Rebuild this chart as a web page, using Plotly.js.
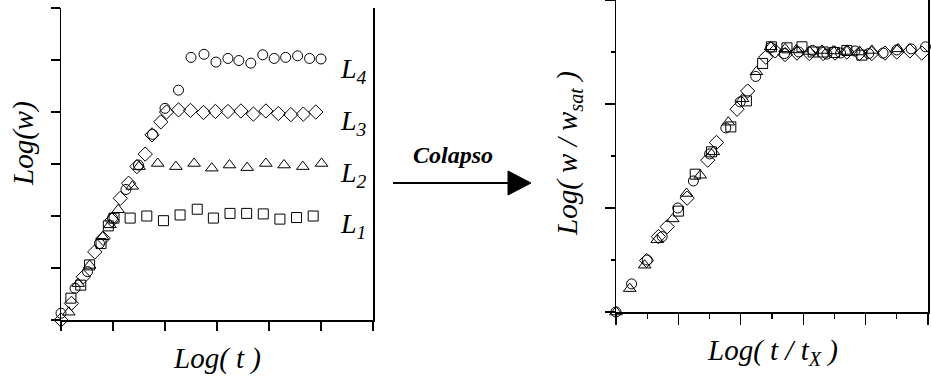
<!DOCTYPE html>
<html>
<head>
<meta charset="utf-8">
<script src="https://cdn.plot.ly/plotly-3.0.1.min.js"></script>
<style>
  html, body { margin: 0; padding: 0; background: #ffffff; }
  #chart { width: 931px; height: 380px; }
</style>
</head>
<body>
<div id="chart"></div>
<script>
// ---- Left panel: Log(w) versus Log(t) for four system sizes ----
const l1X = [0.01, 0.19, 0.38, 0.55, 0.77, 0.91, 1.02, 1.33, 1.65, 1.97, 2.29, 2.62, 2.93, 3.25, 3.57, 3.89, 4.21, 4.53, 4.85];
const l1Y = [-0.10, 0.42, 0.67, 1.06, 1.47, 1.81, 1.96, 1.96, 2.00, 1.91, 2.02, 2.13, 1.96, 2.05, 2.05, 2.04, 1.94, 1.97, 2.00];

const l2X = [0.15, 0.33, 0.55, 0.80, 0.94, 1.10, 1.37, 1.50, 1.86, 2.21, 2.56, 2.90, 3.24, 3.58, 3.94, 4.29, 4.65, 5.01];
const l2Y = [0.15, 0.70, 1.05, 1.60, 1.83, 2.12, 2.57, 2.95, 3.01, 2.95, 3.01, 2.92, 2.98, 2.93, 3.01, 2.98, 2.95, 3.01];

const l3X = [0.00, 0.20, 0.43, 0.65, 0.81, 0.98, 1.14, 1.30, 1.46, 1.62, 1.75, 1.92, 2.03, 2.26, 2.49, 2.74, 2.97, 3.21, 3.46, 3.70, 3.94, 4.18, 4.42, 4.66, 4.90];
const l3Y = [0.00, 0.32, 0.83, 1.31, 1.57, 1.92, 2.34, 2.63, 2.95, 3.19, 3.56, 3.81, 4.00, 4.04, 4.03, 3.99, 4.01, 4.01, 4.02, 3.96, 4.02, 3.97, 3.95, 3.96, 4.00];

const l4X = [0.00, 0.27, 0.51, 0.74, 0.99, 1.25, 1.49, 1.76, 2.00, 2.26, 2.50, 2.75, 2.98, 3.21, 3.42, 3.65, 3.88, 4.10, 4.32, 4.55, 4.78, 5.00];
const l4Y = [0.13, 0.61, 0.93, 1.47, 1.96, 2.51, 2.98, 3.57, 4.07, 4.42, 5.05, 5.11, 4.96, 5.03, 4.99, 4.94, 5.10, 5.03, 5.05, 5.08, 5.03, 5.02];

// ---- Right panel: collapsed curves Log(w/w_sat) versus Log(t/t_X) ----
const c1X = [1.00, 1.27, 1.53, 1.84, 2.09, 2.35, 2.49, 2.74, 2.98, 3.16, 3.32, 3.50, 3.70, 3.94];
const c1Y = [1.94, 2.65, 3.08, 3.56, 4.06, 4.78, 5.10, 5.08, 5.10, 5.00, 5.00, 4.99, 5.03, 4.94];

const c2X = [0.00, 0.22, 0.46, 0.66, 0.91, 1.13, 1.35, 1.56, 1.80, 2.03, 2.25, 2.48, 2.71, 2.89, 3.10, 3.30, 3.48, 3.70, 3.91, 4.10, 4.52];
const c2Y = [0.00, 0.45, 0.90, 1.39, 1.79, 2.28, 2.63, 3.08, 3.65, 4.10, 4.62, 5.10, 5.06, 5.04, 5.01, 5.03, 5.02, 5.01, 5.00, 5.03, 5.06];

const c3X = [0.49, 0.68, 0.82, 1.14, 1.47, 1.61, 1.94, 2.11, 2.40, 2.55, 2.71, 2.90, 3.10, 3.32, 3.51, 3.70, 3.90, 4.10, 4.31, 4.50, 4.71, 4.90];
const c3Y = [0.99, 1.45, 1.64, 2.19, 2.92, 3.26, 3.90, 4.25, 4.90, 5.02, 4.95, 4.98, 4.97, 4.97, 4.98, 5.00, 4.97, 4.97, 4.98, 5.00, 5.02, 4.98];

const c4X = [0.00, 0.25, 0.50, 0.74, 0.99, 1.24, 1.50, 1.76, 1.99, 2.24, 2.48, 2.70, 2.93, 3.15, 3.38, 3.60, 3.83, 4.05, 4.28, 4.50, 4.73, 4.96];
const c4Y = [0.00, 0.54, 1.00, 1.45, 2.00, 2.52, 3.04, 3.54, 4.04, 4.53, 5.09, 4.97, 5.00, 5.03, 4.96, 4.98, 5.02, 4.97, 4.98, 5.04, 5.06, 5.10];

const sizeLabels = ['L<sub>1</sub>', 'L<sub>2</sub>', 'L<sub>3</sub>', 'L<sub>4</sub>'];

const W = 931, H = 380;
const px = v => v / W;
const py = v => 1 - v / H;

function series(x, y, symbol, size, xa, ya) {
  return {
    type: 'scatter', mode: 'markers', x: x, y: y,
    xaxis: xa, yaxis: ya, cliponaxis: false, hoverinfo: 'skip',
    marker: { symbol: symbol, size: size, color: '#000', line: { color: '#000', width: 1 } }
  };
}

const traces = [
  series(l1X, l1Y, 'square-open', 10, 'x', 'y'),
  series(l2X, l2Y, 'triangle-up-open', 11, 'x', 'y'),
  series(l3X, l3Y, 'diamond-open', 11, 'x', 'y'),
  series(l4X, l4Y, 'circle-open', 10, 'x', 'y'),
  series(c1X, c1Y, 'square-open', 10, 'x2', 'y2'),
  series(c2X, c2Y, 'triangle-up-open', 11, 'x2', 'y2'),
  series(c3X, c3Y, 'diamond-open', 11, 'x2', 'y2'),
  series(c4X, c4Y, 'circle-open', 10, 'x2', 'y2')
];

const axisBase = {
  showgrid: false, zeroline: false, showticklabels: false,
  showline: true, linecolor: '#000', linewidth: 1.5,
  ticks: 'outside', tickcolor: '#000', tickwidth: 1.2, fixedrange: true
};

const serif = 'Liberation Serif, Times New Roman, serif';

function label(text, x, y, size, angle, extra) {
  return Object.assign({
    xref: 'paper', yref: 'paper', x: px(x), y: py(y),
    text: text, showarrow: false, textangle: angle || 0,
    xanchor: 'center', yanchor: 'middle',
    font: { family: serif, size: size, color: '#000' }
  }, extra || {});
}

const annotations = [
  label('<i>Log(w)</i>', 23, 144, 29, -90),
  label('<i>Log( t )</i>', 217, 358, 29, 0),
  label('<i>Log( w / w<sub>sat</sub> )</i>', 569, 154, 29, -90),
  label('<i>Log( t / t<sub>X</sub> )</i>', 772, 352, 29, 0),
  label('<b><i>Colapso</i></b>', 453, 155, 24, 0)
];
const labelRows = [226, 174, 122, 70];
sizeLabels.forEach((t, i) => {
  annotations.push(label('<i>' + t + '</i>', 338, labelRows[i], 28, 0, { xanchor: 'left' }));
});

const layout = {
  width: W, height: H,
  margin: { l: 0, r: 0, t: 0, b: 0, pad: 0 },
  paper_bgcolor: '#fff', plot_bgcolor: '#fff',
  showlegend: false,
  xaxis: Object.assign({}, axisBase, {
    domain: [px(61), px(373)], range: [0, 6], dtick: 1, tick0: 0, ticklen: 9, anchor: 'y'
  }),
  yaxis: Object.assign({}, axisBase, {
    domain: [py(320), py(8)], range: [0, 6], dtick: 1, tick0: 0, ticklen: 9, anchor: 'x', mirror: true
  }),
  xaxis2: Object.assign({}, axisBase, {
    domain: [px(616), px(928)], range: [0, 5], dtick: 1, tick0: 0, ticklen: 11, anchor: 'y2',
    minor: { dtick: 0.5, ticklen: 5, tickcolor: '#000', tickwidth: 1.2, ticks: 'outside', showgrid: false }
  }),
  yaxis2: Object.assign({}, axisBase, {
    domain: [py(312), py(0)], range: [0, 6], dtick: 2, tick0: 0, ticklen: 10, anchor: 'x2', mirror: true,
    minor: { dtick: 1, ticklen: 4, tickcolor: '#000', tickwidth: 1.2, ticks: 'outside', showgrid: false }
  }),
  annotations: annotations,
  shapes: [
    { type: 'line', xref: 'paper', yref: 'paper', x0: px(393), y0: py(183), x1: px(510), y1: py(183),
      line: { color: '#000', width: 2 } },
    { type: 'path', xref: 'paper', yref: 'paper',
      path: 'M ' + px(508) + ' ' + py(171) + ' L ' + px(531) + ' ' + py(183) + ' L ' + px(508) + ' ' + py(195) + ' Z',
      fillcolor: '#000', line: { color: '#000', width: 1 } }
  ]
};

Plotly.newPlot('chart', traces, layout, { staticPlot: true, displayModeBar: false });
</script>
</body>
</html>
